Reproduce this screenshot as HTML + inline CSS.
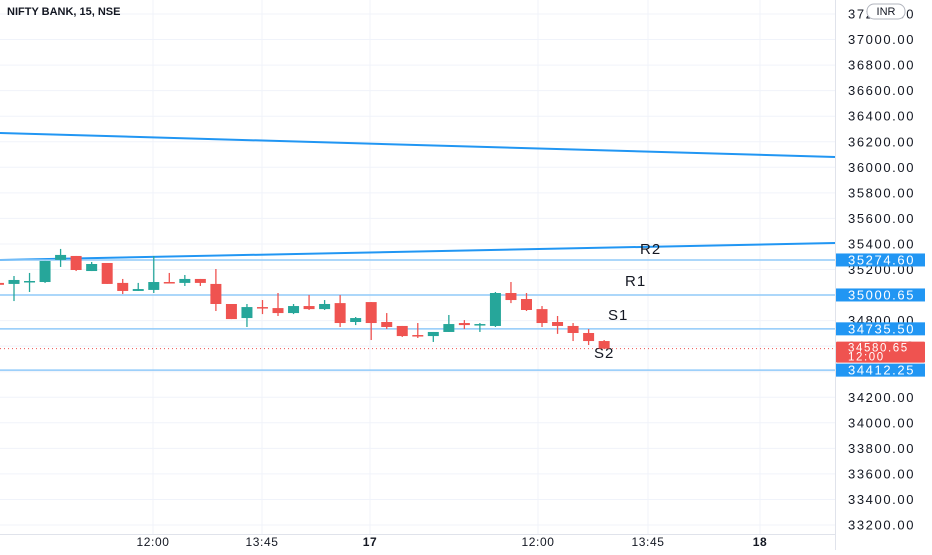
<!DOCTYPE html>
<html><head><meta charset="utf-8"><style>
body{margin:0;background:#fff;}
svg text{font-family:"Liberation Sans",sans-serif;}
.pl{letter-spacing:1.6px;}
</style></head><body>
<svg id="chart" width="932" height="550" xmlns="http://www.w3.org/2000/svg">
<g id="grid"></g>
<g id="lines"></g>
<g id="candles"></g>
<g id="axis"></g>
<g id="xaxis"></g>
<text x="7" y="15" font-size="11" font-weight="bold" fill="#131722">NIFTY BANK, 15, NSE</text>
</svg>
<script>
const opens=[35095,35087,35110,35102,35275,35306,35188,35251,35095,35032,35040,35102,35095,35126,35087,34930,34820,34906,34898,34859,34914,34890,34937,34789,34945,34789,34758,34687,34679,34711,34781,34765,34758,35016,34969,34890,34789,34758,34703,34640];
const highs=[35110,35149,35173,35267,35361,35306,35259,35251,35126,35095,35306,35173,35157,35126,35204,34930,34930,34961,35016,34930,35000,34961,35000,34828,34945,34859,34758,34781,34711,34844,34804,34781,35024,35102,35016,34914,34836,34781,34734,34648];
const lows=[35070,34953,35024,35095,35220,35188,35188,35087,35008,35032,35016,35095,35071,35071,34875,34812,34750,34851,34836,34851,34883,34883,34750,34765,34648,34734,34672,34664,34633,34711,34734,34711,34750,34937,34875,34750,34696,34640,34609,34580];
const closes=[35080,35118,35110,35267,35314,35196,35243,35087,35032,35047,35102,35095,35126,35095,34930,34812,34906,34900,34859,34914,34890,34930,34781,34820,34781,34750,34679,34680,34711,34773,34765,34773,35016,34961,34883,34781,34758,34703,34640,34580];
const priceTicks=[37200,37000,36800,36600,36400,36200,36000,35800,35600,35400,35200,35000,34800,34600,34400,34200,34000,33800,33600,33400,33200];
const levelValues=[35274.60,35000.65,34735.50,34412.25];
const timeLabels=["12:00","13:45","17","12:00","13:45","18"];
const timeLabelX=[153,262,370,538,648,760];
const timeBold=[false,false,true,false,false,true];
const lastPrice=34580.65;
const NS='http://www.w3.org/2000/svg';
const y=p=>14+(37200-p)*0.12775;
const x=i=>14+(i-1)*15.53;
const PR=835;
function mk(tag,attrs,parent){const e=document.createElementNS(NS,tag);for(const k in attrs)e.setAttribute(k,attrs[k]);parent.appendChild(e);return e;}
const grid=document.getElementById('grid'),lines=document.getElementById('lines'),cg=document.getElementById('candles'),ax=document.getElementById('axis'),xa=document.getElementById('xaxis');
priceTicks.forEach(p=>{
 const l=mk('line',{x1:0,x2:PR,y1:y(p),y2:y(p),stroke:'#f0f3fa','stroke-width':1},grid);
 
 const t=mk('text',{x:848,y:y(p)+4.5,'font-size':13,fill:'#131722',class:'pl'},ax);t.textContent=p.toFixed(2);
 
});
timeLabelX.forEach((tx,i)=>{
 const l=mk('line',{x1:tx,x2:tx,y1:0,y2:534,stroke:'#f0f3fa','stroke-width':1},grid);
 
 const t=mk('text',{x:tx,y:546,'font-size':12,'text-anchor':'middle',fill:'#131722','font-weight':timeBold[i]?'bold':'normal','letter-spacing':0.6},xa);t.textContent=timeLabels[i];
 
});
let b=mk('line',{x1:PR+0.5,x2:PR+0.5,y1:0,y2:550,stroke:'#e0e3eb'},ax);
b=mk('line',{x1:0,x2:PR,y1:534.5,y2:534.5,stroke:'#e0e3eb'},xa);
let tl=mk('line',{x1:0,y1:133,x2:PR,y2:157,stroke:'#2196f3','stroke-width':2},lines);
tl=mk('line',{x1:0,y1:260,x2:PR,y2:243,stroke:'#2196f3','stroke-width':2},lines);
levelValues.forEach(v=>{
 const l=mk('line',{x1:0,x2:PR,y1:y(v),y2:y(v),stroke:'#90caf9','stroke-width':1.5},lines);
 
 const r=mk('rect',{x:836,y:y(v)-6.5,width:89,height:13,fill:'#2196f3'},ax);
 
 const t=mk('text',{x:848,y:y(v)+4.5,'font-size':13,fill:'#fff',class:'pl'},ax);t.textContent=v.toFixed(2);
 
});
let dl=mk('line',{x1:0,x2:PR,y1:y(lastPrice),y2:y(lastPrice),stroke:'#ef5350','stroke-width':1,'stroke-dasharray':'1 3'},lines);

let lr=mk('rect',{x:836,y:y(lastPrice)-7,width:89,height:21,fill:'#ef5350',rx:1},ax);
let lt=mk('text',{x:848,y:y(lastPrice)+3,'font-size':11.5,fill:'#fff',class:'pl'},ax);lt.textContent=lastPrice.toFixed(2);
lt=mk('text',{x:848,y:y(lastPrice)+12,'font-size':11.5,fill:'#fff',class:'pl'},ax);lt.textContent='12:00';
[['R2',640,254],['R1',625,286],['S1',608,320],['S2',594,358]].forEach(a=>{
 const t=mk('text',{x:a[1],y:a[2],'font-size':15,fill:'#131722','letter-spacing':1},lines);t.textContent=a[0];
 
});
opens.forEach((o,i)=>{
 const c=closes[i],up=c>=o,col=up?'#26a69a':'#ef5350',cx=x(i);
 const g=mk('g',{},cg);
 mk('line',{x1:cx,x2:cx,y1:y(highs[i]),y2:y(lows[i]),stroke:col,'stroke-width':1.3},g);
 const top=y(Math.max(o,c)),h=Math.max(1.5,y(Math.min(o,c))-top);
 mk('rect',{x:cx-5.5,y:top,width:11,height:h,fill:col},g);
});
let ib=mk('rect',{x:867,y:4,width:38,height:15,rx:7,fill:'#fff',stroke:'#b2b5be'},ax);
let it=mk('text',{x:886,y:15,'font-size':11,'text-anchor':'middle',fill:'#131722'},ax);it.textContent='INR';
</script>
</body></html>
